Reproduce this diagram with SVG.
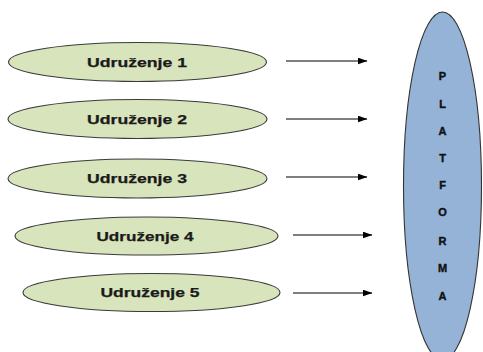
<svg xmlns="http://www.w3.org/2000/svg" width="483" height="352" viewBox="0 0 483 352">
<style>
.u ellipse{fill:#d8e4bc;stroke:#3a3a3a;stroke-width:1.1}
.u text{font-family:"Liberation Sans",Arial,sans-serif;font-weight:bold;font-size:12.5px;fill:#1a1a1a;stroke:#1a1a1a;stroke-width:0.25;text-anchor:middle}
.p text{font-family:"Liberation Sans",Arial,sans-serif;font-weight:bold;font-size:11px;fill:#111;stroke:#111;stroke-width:0.4;text-anchor:middle}
.c line{stroke:#000;stroke-width:1.2;marker-end:url(#ah)}
</style>
<defs>
<marker id="ah" markerWidth="10" markerHeight="7" refX="9.5" refY="3.5" orient="auto" markerUnits="userSpaceOnUse">
<path d="M0,0 L10,3.5 L0,7 Z" fill="#000"/>
</marker>
</defs>
<rect width="483" height="352" fill="#fff"/>
<g id="u1" class="u"><ellipse cx="137.5" cy="62" rx="129" ry="19.5"/><text x="137" y="66.5" textLength="100" lengthAdjust="spacingAndGlyphs">Udruženje 1</text></g>
<g id="u2" class="u"><ellipse cx="137.5" cy="119" rx="129.5" ry="19.5"/><text x="137" y="123.5" textLength="100" lengthAdjust="spacingAndGlyphs">Udruženje 2</text></g>
<g id="u3" class="u"><ellipse cx="137.5" cy="178.5" rx="129.5" ry="19.5"/><text x="137" y="183" textLength="100" lengthAdjust="spacingAndGlyphs">Udruženje 3</text></g>
<g id="u4" class="u"><ellipse cx="146.5" cy="236" rx="131.5" ry="19"/><text x="145" y="240.5" textLength="97" lengthAdjust="spacingAndGlyphs">Udruženje 4</text></g>
<g id="u5" class="u"><ellipse cx="151.5" cy="292.5" rx="128.5" ry="19"/><text x="150" y="297" textLength="99" lengthAdjust="spacingAndGlyphs">Udruženje 5</text></g>
<g id="platforma" class="p">
<ellipse cx="442.5" cy="186" rx="39" ry="174" fill="#95b3d7" stroke="#333" stroke-width="1.1"/>
<text x="442.5" y="80">P</text>
<text x="442.5" y="107.5">L</text>
<text x="442.5" y="135">A</text>
<text x="442.5" y="162">T</text>
<text x="442.5" y="189">F</text>
<text x="442.5" y="216">O</text>
<text x="442.5" y="244.5">R</text>
<text x="442.5" y="272">M</text>
<text x="442.5" y="300">A</text>
</g>
<g id="connectors" class="c">
<line x1="286" y1="61" x2="367" y2="61"/>
<line x1="286" y1="119" x2="367" y2="119"/>
<line x1="286" y1="177" x2="367" y2="177"/>
<line x1="293" y1="235" x2="372" y2="235"/>
<line x1="293" y1="293" x2="372" y2="293"/>
</g>
</svg>
